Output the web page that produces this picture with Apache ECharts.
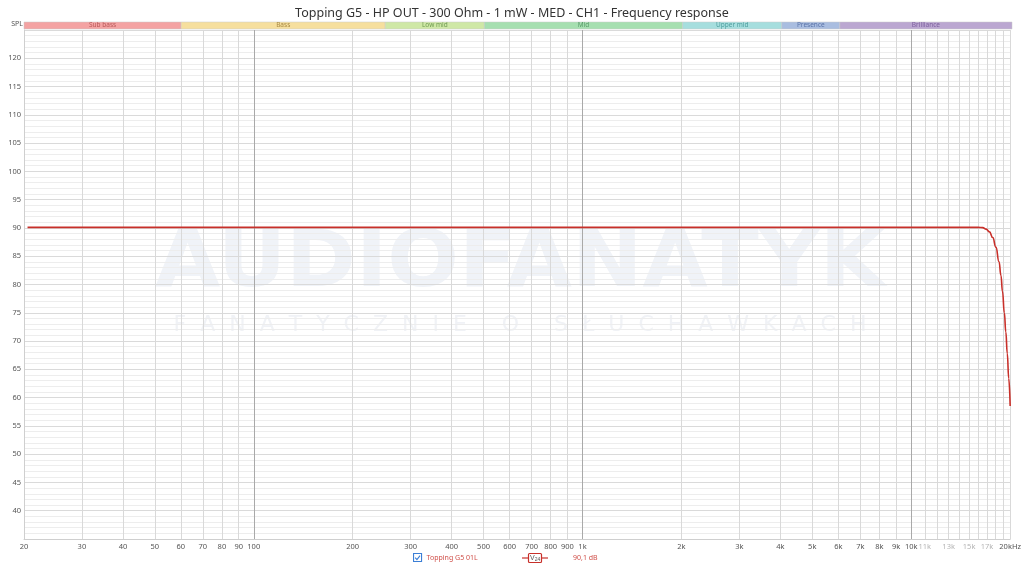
<!DOCTYPE html>
<html>
<head>
<meta charset="utf-8">
<script src="https://cdn.jsdelivr.net/npm/echarts@6/dist/echarts.min.js"></script>
<style>
html,body{margin:0;padding:0;background:#fff;}
#chart{width:1024px;height:564px;}
</style>
</head>
<body>
<div id="chart"></div>
<script>
// ---- data ----
const seriesName = 'Topping G5 01L';
const freqHz = [20.5, 50, 100, 200, 500, 1000, 2000, 5000, 10000, 14000, 16000, 16500, 16900, 17300, 17700, 18100, 18500, 18750, 18950, 19200, 19400, 19600, 19800, 20000];
const splDb  = [90.1, 90.1, 90.1, 90.1, 90.1, 90.1, 90.1, 90.1, 90.1, 90.1, 90.1, 90.05, 89.8, 89.3, 88.3, 86.6, 84.0, 81.6, 78.8, 75.0, 71.6, 67.8, 63.4, 58.5];
const gridFreqs = [20,30,40,50,60,70,80,90,100,200,300,400,500,600,700,800,900,1000,2000,3000,4000,5000,6000,7000,8000,9000,10000,11000,12000,13000,14000,15000,16000,17000,18000,19000,20000];
const labelFreqs = [20,30,40,50,60,70,80,90,100,200,300,400,500,600,700,800,900,1000,2000,3000,4000,5000,6000,7000,8000,9000,10000,11000,13000,15000,17000,20000];
const fadedLabels = [11000,13000,15000,17000];
const decadeFreqs = [100,1000,10000];
const bandNames = ['Sub bass','Bass','Low mid','Mid','Upper mid','Presence','Brilliance'];
const bandEdges = [20,60,250,500,2000,4000,6000,20000];
const bandFill = ['#f4a3a3','#f6df9e','#cfe8a6','#a6dfb0','#a6dede','#a9bde0','#bba7d1'];
const bandText = ['#b85a5a','#a88a45','#6f9a52','#5a9c6a','#4f9e9e','#5a73a8','#7d5f9e'];
const yMin = 35, yMax = 125, yStep = 5;
const cursorValue = '90,1 dB';

const data = freqHz.map((f,i)=>[f, splDb[i]]);

function fmtHz(v){
  if (v >= 20000) return '20kHz';
  if (v >= 1000) return (v/1000) + 'k';
  return String(v);
}

const bandAreas = bandNames.map((n,i)=>[
  {name:n, xAxis:bandEdges[i], itemStyle:{color:bandFill[i], borderColor:'#c9c9c9', borderWidth:0.5}, label:{color:bandText[i]}},
  {xAxis:bandEdges[i+1]}
]);

const chart = echarts.init(document.getElementById('chart'), null, {renderer:'canvas'});
const FONT = '"Noto Sans", "Open Sans", sans-serif';
chart.setOption({
  animation:false,
  backgroundColor:'#ffffff',
  textStyle:{fontFamily:FONT},
  title:{
    text:'Topping G5 - HP OUT - 300 Ohm - 1 mW - MED - CH1 - Frequency response',
    left:'center', top:2,
    textStyle:{fontSize:12.5, fontWeight:'normal', color:'#333', fontFamily:FONT}
  },
  legend:{
    data:[{name:seriesName, icon:'path://M0.5,0.5H9.5V9.5H0.5Z M2.3,5.2L4.3,7.3L7.8,2.8', itemStyle:{color:'rgba(0,0,0,0)', borderColor:'#3c7fd6', borderWidth:1.1}}],
    left:413, top:553, padding:0, itemWidth:8, itemHeight:8, itemGap:4,
    textStyle:{color:'#d0504a', fontSize:7, fontFamily:FONT},
    selectedMode:false
  },
  graphic:[
    {type:'text', z:-10, x:520, y:266, scaleX:1.08, originX:0, style:{text:'AUDIOFANATYK', font:'bold 78px "DejaVu Sans"', fill:'#f0f3f8', align:'center', verticalAlign:'middle'}},
    {type:'text', z:-10, x:520, y:325, style:{text:'F  A  N  A  T  Y  C  Z  N  I  E     O     S  Ł  U  C  H  A  W  K  A  C  H', font:'22px "DejaVu Sans"', fill:'#f0f2f6', align:'center', verticalAlign:'middle'}},
    {type:'line', shape:{x1:522, y1:558, x2:548, y2:558}, style:{stroke:'#c8302a', lineWidth:1.2}},
    {type:'rect', shape:{x:528.5, y:553.5, width:13, height:9, r:1}, style:{fill:'#fff', stroke:'#c8302a', lineWidth:1.2}},
    {type:'text', x:530, y:554.5, style:{text:'{a|V}{b|24}', rich:{a:{fontSize:7, fill:'#555'}, b:{fontSize:5, fill:'#555', padding:[3,0,0,0]}}}},
    {type:'text', x:573, y:554, style:{text:cursorValue, fontSize:7, fill:'#d0504a', fontFamily:FONT}}
  ],
  grid:[
    {left:24, right:12, top:30, bottom:25},
    {left:24, right:12, top:22, height:7}
  ],
  xAxis:[
    {
      type:'log', logBase:10, min:20, max:20000, gridIndex:0,
      axisLine:{show:true, lineStyle:{color:'#cfcfcf'}},
      axisTick:{show:false, customValues:gridFreqs},
      axisLabel:{
        customValues:labelFreqs, fontSize:7.5, color:'#555', margin:4, fontFamily:FONT,
        formatter:function(v){ const t = fmtHz(v); return fadedLabels.indexOf(v) >= 0 ? '{f|'+t+'}' : t; },
        rich:{f:{color:'#b5b5b5', fontSize:7.5}}
      },
      splitLine:{show:true, lineStyle:{color:'#d9d9d9', width:1}}
    },
    {
      type:'log', logBase:10, min:20, max:20000, gridIndex:0,
      axisLine:{show:false}, axisLabel:{show:false},
      axisTick:{show:false, customValues:decadeFreqs},
      splitLine:{show:true, lineStyle:{color:'#a9a9a9', width:1}}
    },
    {
      type:'log', logBase:10, min:20, max:20000, gridIndex:1, show:false
    }
  ],
  yAxis:[
    {
      type:'value', min:yMin, max:yMax, interval:yStep, gridIndex:0,
      name:'SPL', nameLocation:'end', nameGap:3,
      nameTextStyle:{fontSize:7, color:'#555', align:'right', verticalAlign:'bottom', padding:[0,1,0,0]},
      axisLine:{show:true, lineStyle:{color:'#cfcfcf'}},
      axisTick:{show:false},
      axisLabel:{fontSize:7.5, color:'#555', margin:3, fontFamily:FONT,
        formatter:function(v){ return (v === yMin || v === yMax) ? '' : String(v); }},
      splitLine:{show:true, lineStyle:{color:'#dadada'}},
      minorTick:{show:false, splitNumber:5},
      minorSplitLine:{show:true, lineStyle:{color:'#ededed'}}
    },
    {type:'value', min:0, max:1, gridIndex:1, show:false}
  ],
  series:[
    {
      name:seriesName, type:'line', xAxisIndex:0, yAxisIndex:0,
      data:data, showSymbol:false, smooth:0.5, smoothMonotone:'x',
      lineStyle:{color:'#c8302a', width:1.6}, itemStyle:{color:'#c8302a'}, z:5
    },
    {
      name:'bands', type:'line', xAxisIndex:2, yAxisIndex:1,
      data:[[20,0]], showSymbol:false, lineStyle:{opacity:0}, silent:true,
      markArea:{silent:true, label:{show:true, position:'inside', fontSize:6.5, fontFamily:FONT}, data:bandAreas}
    }
  ]
});
</script>
</body>
</html>
